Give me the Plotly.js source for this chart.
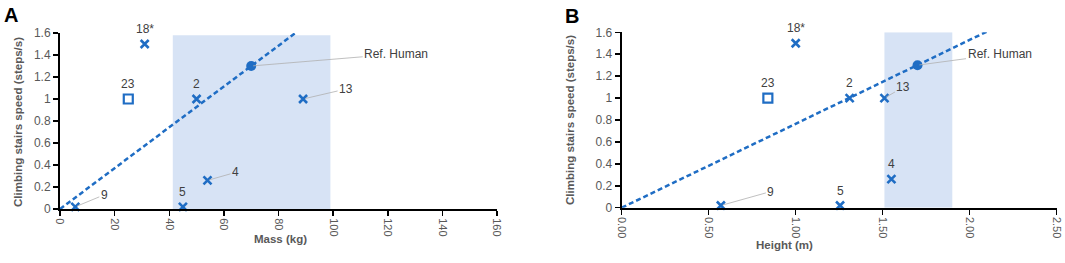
<!DOCTYPE html>
<html>
<head>
<meta charset="utf-8">
<script src="https://cdn.plot.ly/plotly-3.0.1.min.js"></script>
<style>html,body{margin:0;padding:0;background:#fff;}#chart{width:1065px;height:263px;}</style>
</head>
<body>
<div id="chart"></div>
<script>
// ---- Data ----
const labels      = ["18*", "2", "13", "4", "5", "9"];
const massKg      = [31, 50, 89, 54, 45, 5.6];
const heightM     = [1.00, 1.31, 1.51, 1.55, 1.255, 0.57];
const speedSteps  = [1.5, 1.0, 1.0, 0.26, 0.02, 0.02];

const sqLabel     = ["23"];
const sqMass      = [25];
const sqHeight    = [0.84];
const sqSpeed     = [1.0];

const refLabel    = ["Ref. Human"];
const refMass     = [70];
const refHeight   = [1.70];
const refSpeed    = [1.3];

const trendMassX  = [0, 87];
const trendMassY  = [0, 1.615];
const trendHgtX   = [0, 2.11];
const trendHgtY   = [0, 1.615];

const bandMass    = [41.3, 99];
const bandHeight  = [1.51, 1.90];
const bandMassY   = [0, 1.58];
const bandHeightY = [0, 1.60];

const yTicks      = [0, 0.2, 0.4, 0.6, 0.8, 1, 1.2, 1.4, 1.6];
const massTicks   = [0, 20, 40, 60, 80, 100, 120, 140, 160];
const hgtTicks    = [0, 0.5, 1.0, 1.5, 2.0, 2.5];

// ---- Style ----
const BLUE = "#1f6dc4";
const GREY = "#595959";
const LBL  = "#404040";
const FONT = "Liberation Sans, Arial, sans-serif";

function traces(xs, sqx, refx, tx, ty, xa, ya) {
  return [
    {x: tx, y: ty, xaxis: xa, yaxis: ya, mode: "lines", type: "scatter",
     line: {color: BLUE, width: 2.5, dash: "5px,3px"}, hoverinfo: "skip", cliponaxis: false},
    {x: xs, y: speedSteps, xaxis: xa, yaxis: ya, mode: "markers", type: "scatter", cliponaxis: false,
     marker: {symbol: "x-thin", size: 8, line: {color: BLUE, width: 2.6}, color: BLUE}},
    {x: sqx, y: sqSpeed, xaxis: xa, yaxis: ya, mode: "markers", type: "scatter", cliponaxis: false,
     marker: {symbol: "square-open", size: 9, color: BLUE, line: {color: BLUE, width: 2.2}}},
    {x: refx, y: refSpeed, xaxis: xa, yaxis: ya, mode: "markers", type: "scatter", cliponaxis: false,
     marker: {symbol: "circle", size: 10, color: BLUE}}
  ];
}

const data = [].concat(
  traces(massKg, sqMass, refMass, trendMassX, trendMassY, "x", "y"),
  traces(heightM, sqHeight, refHeight, trendHgtX, trendHgtY, "x2", "y2")
);

// label placement offsets (pixels) per point: [ax, ay, leader]
const offA = {"18*": [0, -15, false], "2": [0, -15, false], "13": [43, -10, true],
              "4": [28, -8, true], "5": [0, -15, false], "9": [29, -12, true]};
const offB = {"18*": [0, -15, false], "2": [0, -15, false], "13": [19, -11, true],
              "4": [0, -15, false], "5": [0, -15, false], "9": [50, -14, true]};

function labelAnns(xs, sqx, refx, xr, yr, offs, refOff) {
  const out = [];
  const mk = (x, y, t, o) => {
    if (o[2]) {
      out.push({x: x, y: y, xref: xr, yref: yr, text: t, showarrow: true, arrowhead: 0,
        arrowwidth: 0.8, arrowcolor: "#b0b0b0", ax: o[0], ay: o[1], standoff: 2,
        font: {family: FONT, size: 12, color: LBL}});
    } else {
      out.push({x: x, y: y, xref: xr, yref: yr, text: t, showarrow: false,
        yshift: -o[1], font: {family: FONT, size: 12, color: LBL}});
    }
  };
  labels.forEach((t, i) => mk(xs[i], speedSteps[i], t, offs[t]));
  mk(sqx[0], sqSpeed[0], sqLabel[0], [0, -15, false]);
  mk(refx[0], refSpeed[0], refLabel[0], refOff);
  return out;
}

const annotations = [].concat(
  labelAnns(massKg, sqMass, refMass, "x", "y", offA, [145, -12, true]),
  labelAnns(heightM, sqHeight, refHeight, "x2", "y2", offB, [82, -11, true]),
  [
    {text: "<b>A</b>", xref: "paper", yref: "paper", x: 2/1065, y: 1 - 2/263, xanchor: "left", yanchor: "top",
     showarrow: false, font: {family: FONT, size: 20, color: "#000"}},
    {text: "<b>B</b>", xref: "paper", yref: "paper", x: 563/1065, y: 1 - 3/263, xanchor: "left", yanchor: "top",
     showarrow: false, font: {family: FONT, size: 20, color: "#000"}},
    {text: "<b>Mass (kg)</b>", xref: "paper", yref: "paper", x: 252/1065, y: 1 - 247/263,
     showarrow: false, font: {family: FONT, size: 11.5, color: GREY}},
    {text: "<b>Height (m)</b>", xref: "paper", yref: "paper", x: 815/1065, y: 1 - 253/263,
     showarrow: false, font: {family: FONT, size: 11.5, color: GREY}},
    {text: "<b>Climbing stairs speed (steps/s)</b>", xref: "paper", yref: "paper", x: 10/1065, y: 1 - 122/263,
     textangle: -90, showarrow: false, font: {family: FONT, size: 11.5, color: GREY}},
    {text: "<b>Climbing stairs speed (steps/s)</b>", xref: "paper", yref: "paper", x: 570/1065, y: 1 - 120/263,
     textangle: -90, showarrow: false, font: {family: FONT, size: 11.5, color: GREY}}
  ]
);

const shapes = [
  {type: "rect", xref: "x", yref: "y", x0: bandMass[0], x1: bandMass[1], y0: bandMassY[0], y1: bandMassY[1],
   fillcolor: "#d7e3f5", line: {width: 0}, layer: "below"},
  {type: "rect", xref: "x2", yref: "y2", x0: bandHeight[0], x1: bandHeight[1], y0: bandHeightY[0], y1: bandHeightY[1],
   fillcolor: "#d7e3f5", line: {width: 0}, layer: "below"}
];

const axX = {showgrid: false, zeroline: false, showline: true, linecolor: "#000", linewidth: 2,
  ticks: "outside", ticklen: 5, tickwidth: 1.5, tickcolor: "#000", tickangle: 90,
  tickfont: {family: FONT, size: 11, color: GREY}, tickmode: "array", fixedrange: true};
const axY = {showgrid: false, zeroline: false, showline: true, linecolor: "#000", linewidth: 2,
  ticks: "outside", ticklen: 5, tickwidth: 1.5, tickcolor: "#000", range: [0, 1.6],
  tickmode: "array", tickvals: yTicks, tickfont: {family: FONT, size: 12, color: GREY}, fixedrange: true};

const layout = {
  width: 1065, height: 263, margin: {l: 0, r: 0, t: 0, b: 0},
  paper_bgcolor: "#fff", plot_bgcolor: "rgba(0,0,0,0)", showlegend: false,
  xaxis: Object.assign({}, axX, {domain: [60/1065, 497/1065], range: [0, 160], tickvals: massTicks,
    anchor: "y"}),
  yaxis: Object.assign({}, axY, {domain: [1 - 209/263, 1 - 33/263], anchor: "x"}),
  xaxis2: Object.assign({}, axX, {domain: [621.7/1065, 1056.7/1065], range: [0, 2.5], tickvals: hgtTicks,
    tickformat: ".2f", anchor: "y2"}),
  yaxis2: Object.assign({}, axY, {domain: [1 - 207.7/263, 1 - 32.3/263], anchor: "x2"}),
  shapes: shapes,
  annotations: annotations
};

Plotly.newPlot("chart", data, layout, {displayModeBar: false, staticPlot: true});
</script>
</body>
</html>
